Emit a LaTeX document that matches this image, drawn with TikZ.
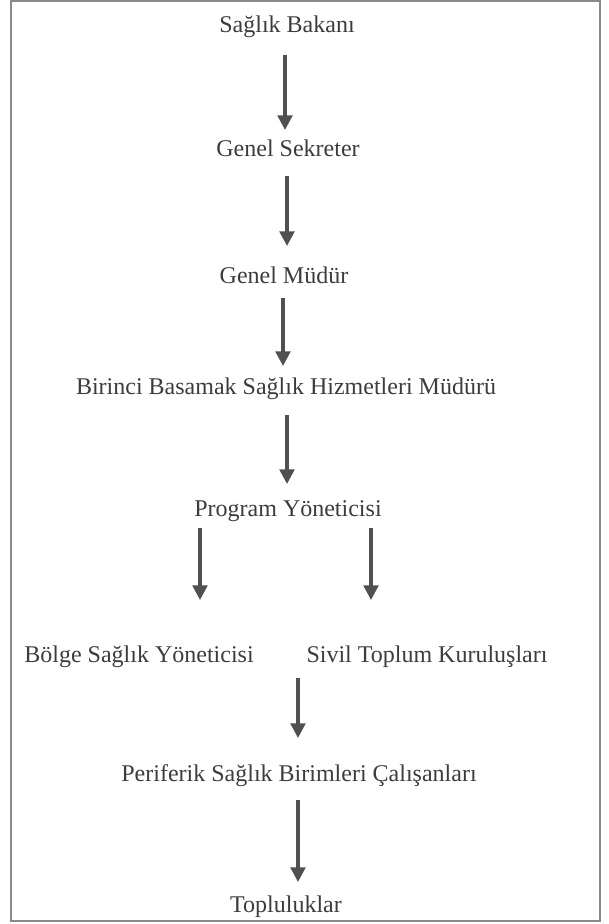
\documentclass[tikz,border=0pt]{standalone}
\usepackage{fontspec}
\setmainfont{Liberation Serif}
\usepackage{xcolor}
\usepackage{tikz}
\usetikzlibrary{arrows.meta,positioning,calc}
\definecolor{inkgray}{HTML}{3C3C3C}
\definecolor{arrowgray}{HTML}{505050}
\definecolor{framegray}{HTML}{8A8A8A}

\begin{document}
\begin{tikzpicture}[x=0.75pt, y=-0.75pt,
    level/.style={text=inkgray, inner sep=0pt, anchor=base, font=\fontsize{18}{21}\selectfont},
    arr/.style={draw=arrowgray, line width=2.5pt, -{Triangle[width=11pt, length=11pt]}, arrowgray}]
    \useasboundingbox (0,0) rectangle (608,924);
    \draw[framegray, line width=1.1pt] (11,1) rectangle (600,921);

    % levels of the chain
    \node[level] (bakan) at (287,33) {Sağlık Bakanı};
    \node[level] (sekreter) at (288,156) {Genel Sekreter};
    \node[level] (mudur) at (284,283) {Genel Müdür};
    \node[level] (birinci) at (286,394) {Birinci Basamak Sağlık Hizmetleri Müdürü};
    \node[level] (program) at (288,516) {Program Yöneticisi};
    \node[level] (bolge) at (139,662) {Bölge Sağlık Yöneticisi};
    \node[level] (sivil) at (427,662) {Sivil Toplum Kuruluşları};
    \node[level] (periferik) at (299,781) {Periferik Sağlık Birimleri Çalışanları};
    \node[level] (topluluk) at (286,912) {Topluluklar};

    % arrows
    \draw[arr] ($(bakan.base)+(-2,22)$) -- ($(sekreter.base)+(-3,-26)$);
    \draw[arr] ($(sekreter.base)+(-1,20)$) -- ($(mudur.base)+(3,-37)$);
    \draw[arr] ($(mudur.base)+(-1,15)$) -- ($(birinci.base)+(-3,-28)$);
    \draw[arr] ($(birinci.base)+(1,21)$) -- ($(program.base)+(-1,-32)$);
    \draw[arr] ($(program.base)+(-88,12)$) -- ($(bolge.base)+(61,-62)$);
    \draw[arr] ($(program.base)+(83,12)$) -- ($(sivil.base)+(-56,-62)$);
    \draw[arr] ($(sivil.base)+(-129,16)$) -- ($(periferik.base)+(-1,-43)$);
    \draw[arr] ($(periferik.base)+(-1,19)$) -- ($(topluluk.base)+(12,-30)$);
\end{tikzpicture}
\end{document}
